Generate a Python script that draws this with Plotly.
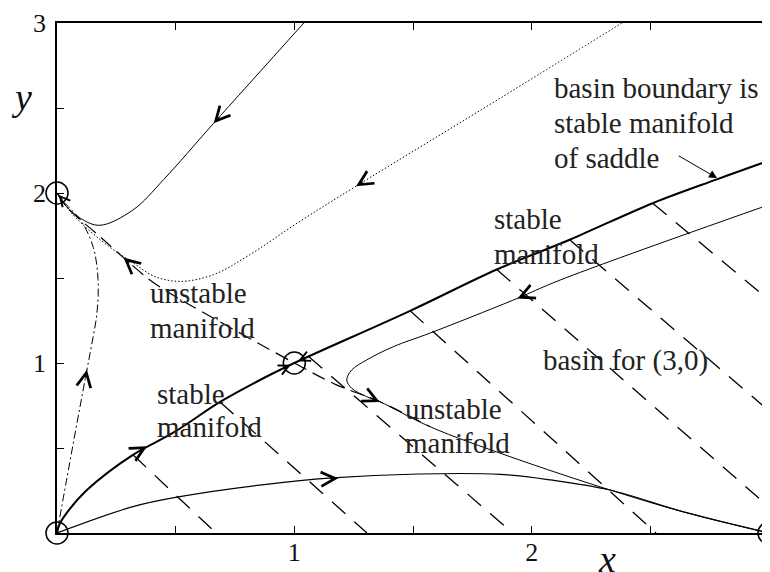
import math
import plotly.graph_objects as go

# ---------------- data ----------------
# fixed points
fp_x = [0, 0, 1, 3]
fp_y = [0, 2, 1, 0]

# basin boundary = stable manifold of the saddle (thick)
bnd_x = [0, 0.01, 0.042, 0.126, 0.32, 0.49, 0.687, 0.855, 1.0, 1.488, 1.853, 2.16, 2.51, 2.78, 3.0]
bnd_y = [0, 0.05, 0.12, 0.253, 0.46, 0.59, 0.771, 0.9, 1.0, 1.307, 1.55, 1.725, 1.94, 2.08, 2.19]

# unstable manifold of the saddle (dashed)
unst_x = [0, 0.04, 0.084, 0.18, 0.28, 0.39, 0.476, 0.575, 1.0, 1.18, 1.361, 1.572]
unst_y = [2.0, 1.92, 1.86, 1.745, 1.62, 1.49, 1.41, 1.33, 1.0, 0.87, 0.772, 0.625]

# trajectory inside basin of (3,0) (thin solid)
trb_x = [2.976, 2.12, 1.922, 1.572, 1.417, 1.305, 1.242, 1.221, 1.242, 1.305, 1.361, 1.572, 1.909, 2.33, 2.64, 3.0]
trb_y = [1.919, 1.488, 1.37, 1.176, 1.096, 1.018, 0.959, 0.90, 0.851, 0.802, 0.772, 0.625, 0.449, 0.253, 0.124, 0.0]

# trajectory from the top (thin solid)
top_x = [1.04, 0.66, 0.45, 0.32, 0.18, 0.1, 0.04, 0]
top_y = [3.0, 2.41, 2.08, 1.9, 1.81, 1.85, 1.92, 2.0]

# dotted trajectory
dot_x = [2.38, 1.87, 1.26, 1.02, 0.81, 0.66, 0.52, 0.41, 0.32, 0.22, 0.12, 0.05, 0]
dot_y = [3.0, 2.56, 2.04, 1.83, 1.635, 1.52, 1.48, 1.51, 1.59, 1.684, 1.80, 1.90, 2.0]

# dash-dot trajectory from origin to (0,2)
dd_x = [0, 0.04, 0.118, 0.145, 0.168, 0.173, 0.153, 0.1, 0.04, 0]
dd_y = [0, 0.31, 0.9, 1.1, 1.29, 1.49, 1.68, 1.84, 1.93, 2.0]

# bottom trajectory from origin to (3,0)
bot_x = [0, 0.32, 0.518, 0.855, 1.16, 1.52, 1.867, 2.08, 2.33, 2.64, 3.0]
bot_y = [0, 0.155, 0.214, 0.282, 0.324, 0.347, 0.345, 0.312, 0.253, 0.124, 0]

# hatching of the basin of (3,0)
hatch_x0 = [0.32, 0.687, 1.06, 1.488, 1.853, 2.16, 2.51]
hatch_y0 = [0.46, 0.771, 1.038, 1.307, 1.55, 1.725, 1.94]
hatch_x1 = [0.67, 1.306, 1.92, 2.524, 3.0, 3.0, 3.0]
hatch_y1 = [0, 0, 0, 0, 0.153, 0.718, 1.37]

# direction arrows (head position and direction of flow)
arr_x = [0.66, 1.26, 0.28, 0.126, 0.38, 1.185, 1.36, 1.94]
arr_y = [2.41, 2.04, 1.62, 0.96, 0.51, 0.322, 0.77, 1.38]
arr_dx = [-0.38, -0.61, -1.0, 0.027, 0.17, 1.0, 1.0, -1.0]
arr_dy = [-0.59, -0.52, 1.2, 0.2, 0.13, 0.08, -0.66, -0.6]

# small arrows at the saddle and at (0,2)
sm_x = [0.985, 1.015, 0.006]
sm_y = [0.99, 1.01, 1.99]
sm_dx = [1.0, -1.0, -1.0]
sm_dy = [0.68, -0.63, 1.6]

tick_vals = [0, 0.5, 1, 1.5, 2, 2.5, 3]
tick_text = ["", "", "1", "", "2", "", "3"]

# ---------------- figure ----------------
# the page body has an 8px margin, so the figure is drawn 8px in from the corner
OFF = 8
W, H = 770 - OFF, 572 - OFF
PL, PR, PT, PB = 57, 769, 23, 533          # plot area in window pixels
ML, MR, MT, MB = PL - OFF, W - (PR - OFF), PT - OFF, H - (PB - OFF)
SX = (PR - PL) / 3.0
SY = (PB - PT) / 3.0

SERIF = "Liberation Serif, Times New Roman, serif"

fig = go.Figure()

hx, hy = [], []
for a, b, c, d in zip(hatch_x0, hatch_y0, hatch_x1, hatch_y1):
    hx += [a, c, None]
    hy += [b, d, None]
fig.add_trace(go.Scatter(x=hx, y=hy, mode="lines",
                         line=dict(color="black", width=1.3, dash="18px,12px")))

fig.add_trace(go.Scatter(x=dot_x, y=dot_y, mode="lines", line_shape="spline",
                         line=dict(color="black", width=1, dash="1.5px,2px")))
fig.add_trace(go.Scatter(x=dd_x, y=dd_y, mode="lines", line_shape="spline",
                         line=dict(color="black", width=1, dash="8px,3px,2px,3px")))
fig.add_trace(go.Scatter(x=unst_x, y=unst_y, mode="lines", line_shape="spline",
                         line=dict(color="black", width=1.2, dash="14px,7px")))
fig.add_trace(go.Scatter(x=top_x, y=top_y, mode="lines", line_shape="spline",
                         line=dict(color="black", width=1)))
fig.add_trace(go.Scatter(x=bot_x, y=bot_y, mode="lines", line_shape="spline",
                         line=dict(color="black", width=1.2)))
fig.add_trace(go.Scatter(x=trb_x, y=trb_y, mode="lines", line_shape="spline",
                         line=dict(color="black", width=1)))
fig.add_trace(go.Scatter(x=bnd_x, y=bnd_y, mode="lines", line_shape="spline",
                         line=dict(color="black", width=2)))
fig.add_trace(go.Scatter(x=fp_x, y=fp_y, mode="markers", cliponaxis=False,
                         marker=dict(symbol="circle-open", size=22,
                                     color="black", line=dict(width=1.5, color="black"))))


def chevron(x, y, dx, dy, size, off):
    px, py = dx * SX, -dy * SY
    L = math.hypot(px, py)
    return dict(x=x, y=y, xref="x", yref="y", ax=-px / L * off, ay=-py / L * off,
                text="", showarrow=True, arrowhead=5, arrowsize=size,
                arrowwidth=0.9, arrowcolor="black", standoff=0)


ann = []
for x, y, dx, dy in zip(arr_x, arr_y, arr_dx, arr_dy):
    ann.append(chevron(x, y, dx, dy, 3.1, 10))
for x, y, dx, dy in zip(sm_x, sm_y, sm_dx, sm_dy):
    ann.append(chevron(x, y, dx, dy, 2.2, 7))

# pointer to the basin boundary
ann.append(dict(x=2.781, y=2.088, ax=2.613, ay=2.224, xref="x", yref="y",
                axref="x", ayref="y", text="", showarrow=True, arrowhead=2,
                arrowsize=1.6, arrowwidth=1, arrowcolor="black", standoff=0))

labels = [
    ("basin boundary is", 2.086, 2.618),
    ("stable manifold", 2.086, 2.412),
    ("of saddle", 2.086, 2.206),
    ("stable", 1.833, 1.847),
    ("manifold", 1.833, 1.641),
    ("unstable", 0.383, 1.412),
    ("manifold", 0.383, 1.206),
    ("stable", 0.413, 0.818),
    ("manifold", 0.413, 0.624),
    ("unstable", 1.458, 0.729),
    ("manifold", 1.458, 0.529),
    ("basin for (3,0)", 2.039, 1.012),
]
for t, x, y in labels:
    ann.append(dict(x=x, y=y, xref="x", yref="y", text=t, showarrow=False,
                    xanchor="left", yanchor="middle",
                    font=dict(family=SERIF, size=29, color="#222")))

# axis names
ann.append(dict(x=(21 - PL) / (PR - PL), y=(PB - 97) / (PB - PT),
                xref="paper", yref="paper", text="<i>y</i>", showarrow=False,
                xanchor="center", yanchor="middle",
                font=dict(family=SERIF, size=38, color="#111")))
ann.append(dict(x=(607 - PL) / (PR - PL), y=(PB - 559) / (PB - PT),
                xref="paper", yref="paper", text="<i>x</i>", showarrow=False,
                xanchor="center", yanchor="middle",
                font=dict(family=SERIF, size=38, color="#111")))

axis_common = dict(range=[0, 3], showgrid=False, zeroline=False, showline=True,
                   linecolor="black", linewidth=1.5, mirror="ticks",
                   ticks="inside", ticklen=7, tickwidth=1.2, tickcolor="black",
                   tickvals=tick_vals, ticktext=tick_text, automargin=False,
                   tickfont=dict(family=SERIF, size=26, color="#111"))

fig.update_layout(
    width=W, height=H,
    margin=dict(l=ML, r=MR, t=MT, b=MB, pad=0),
    paper_bgcolor="white", plot_bgcolor="white",
    showlegend=False,
    xaxis=dict(axis_common, ticklabelstandoff=-5),
    yaxis=dict(axis_common, ticklabelstandoff=4),
    annotations=ann,
)

fig.write_html("out.html")
